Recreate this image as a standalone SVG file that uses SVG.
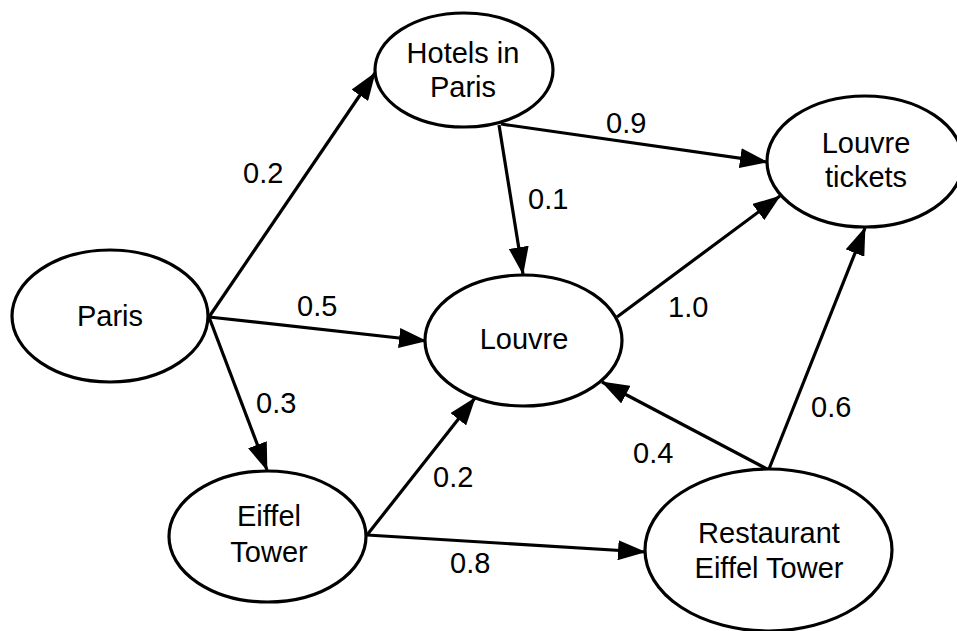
<svg xmlns="http://www.w3.org/2000/svg" width="957" height="631" viewBox="0 0 957 631">
<style>
.n ellipse{fill:#fff;stroke:#000;stroke-width:3.2}
text{font-family:"Liberation Sans",Arial,sans-serif;font-size:29px;fill:#000}
.n text{text-anchor:middle}
.e line{stroke:#000;stroke-width:3.2;marker-end:url(#ah)}
</style>
<defs>
<marker id="ah" markerUnits="userSpaceOnUse" markerWidth="28" markerHeight="20" refX="27" refY="10" orient="auto" viewBox="0 0 28 20">
<path d="M0,0 L28,10 L0,20 Z" fill="#000"/>
</marker>
</defs>
<rect width="957" height="631" fill="#fff"/>
<g id="connectors" class="e">
<line x1="209" y1="317" x2="375" y2="73"/>
<line x1="209" y1="317" x2="426" y2="341"/>
<line x1="209" y1="317" x2="267" y2="470"/>
<line x1="499" y1="125" x2="523" y2="274"/>
<line x1="501" y1="124" x2="767" y2="162"/>
<line x1="617" y1="317" x2="780" y2="196"/>
<line x1="367" y1="535" x2="475" y2="398"/>
<line x1="367" y1="535" x2="645" y2="552"/>
<line x1="767" y1="469" x2="602" y2="382"/>
<line x1="769" y1="469" x2="865" y2="228"/>
</g>
<g id="labels">
<text x="243" y="183">0.2</text>
<text x="297" y="316">0.5</text>
<text x="256" y="413">0.3</text>
<text x="528" y="209">0.1</text>
<text x="606" y="133">0.9</text>
<text x="668" y="317">1.0</text>
<text x="433" y="487">0.2</text>
<text x="450" y="573">0.8</text>
<text x="633" y="463">0.4</text>
<text x="811" y="417">0.6</text>
</g>
<g id="hotels" class="n">
<ellipse cx="464" cy="70" rx="89" ry="57"/>
<text x="463" y="63">Hotels in</text>
<text x="463" y="97">Paris</text>
</g>
<g id="tickets" class="n">
<ellipse cx="865" cy="161.5" rx="98" ry="65.5"/>
<text x="866" y="153">Louvre</text>
<text x="866" y="187">tickets</text>
</g>
<g id="paris" class="n">
<ellipse cx="110" cy="316" rx="98" ry="66"/>
<text x="110" y="326">Paris</text>
</g>
<g id="louvre" class="n">
<ellipse cx="523.5" cy="340.5" rx="98.5" ry="65.5"/>
<text x="524" y="349">Louvre</text>
</g>
<g id="eiffel" class="n">
<ellipse cx="267.5" cy="536.5" rx="98.5" ry="65.5"/>
<text x="269" y="526">Eiffel</text>
<text x="269" y="562">Tower</text>
</g>
<g id="restaurant" class="n">
<ellipse cx="768.5" cy="550" rx="123.5" ry="81"/>
<text x="769" y="543">Restaurant</text>
<text x="769" y="578">Eiffel Tower</text>
</g>
</svg>
